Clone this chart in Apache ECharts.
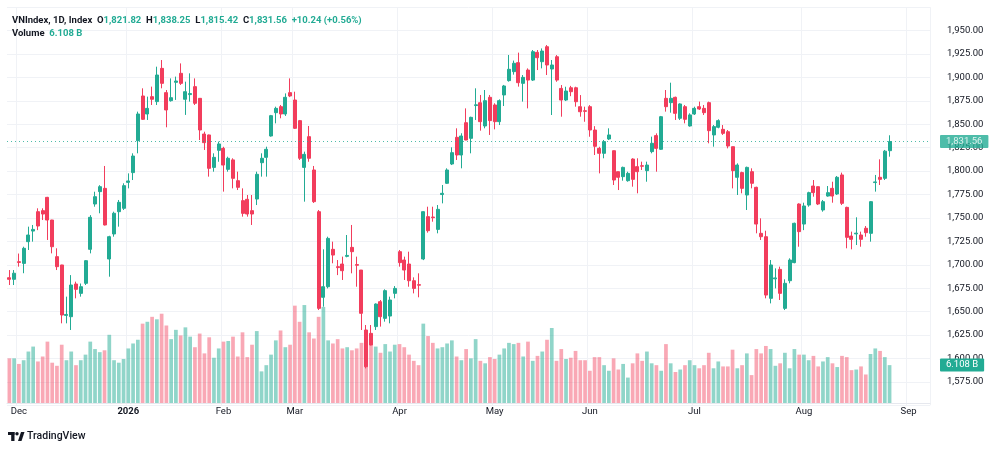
<!DOCTYPE html>
<html>
<head>
<meta charset="utf-8">
<title>VNIndex 1D</title>
<script src="https://cdn.jsdelivr.net/npm/echarts@6/dist/echarts.min.js"></script>
<style>
  html, body { margin: 0; padding: 0; background: #ffffff; }
  #chart { width: 1000px; height: 451px; }
</style>
</head>
<body>
<div id="chart"></div>
<script>
// x axis: month labels and the bar index where each month starts
const monthLabels = ['Dec', '2026', 'Feb', 'Mar', 'Apr', 'May', 'Jun', 'Jul', 'Aug', 'Sep'];
const monthStarts = [2, 25, 45, 60, 82, 102, 122, 144, 167, 189];
const emptyBars = 8; // blank space right of the last bar

// daily bars
const opens = [
  1686.2, 1684.5, 1703.3, 1701.5, 1724.7, 1736.0, 1756.7, 1757.8, 1772.0, 1747.8,
  1708.7, 1699.8, 1646.0, 1644.6, 1679.5, 1669.5, 1680.2, 1716.5, 1764.9, 1778.1,
  1781.6, 1706.2, 1732.9, 1756.7, 1760.3, 1788.0, 1798.4, 1832.5, 1880.2, 1861.0,
  1879.5, 1874.2, 1909.7, 1883.8, 1875.2, 1894.8, 1904.4, 1876.7, 1881.7, 1890.2,
  1877.7, 1839.6, 1838.6, 1804.0, 1822.2, 1824.3, 1801.9, 1812.0, 1789.8, 1768.5,
  1769.9, 1757.8, 1770.2, 1809.0, 1814.7, 1837.5, 1862.4, 1868.8, 1861.0, 1883.8,
  1875.9, 1853.9, 1804.0, 1836.8, 1801.2, 1756.7, 1665.3, 1676.6, 1716.5, 1698.0,
  1700.8, 1709.0, 1718.6, 1700.2, 1694.4, 1630.4, 1626.8, 1634.0, 1660.6, 1642.8,
  1645.3, 1669.5, 1714.0, 1705.1, 1700.8, 1683.0, 1678.8, 1706.2, 1751.4, 1751.0,
  1737.8, 1775.0, 1787.0, 1807.6, 1836.1, 1817.2, 1851.7, 1835.0, 1870.0, 1873.0,
  1848.2, 1878.8, 1870.6, 1852.8, 1881.3, 1896.6, 1906.2, 1915.8, 1893.7, 1907.9,
  1897.2, 1926.8, 1916.8, 1932.8, 1909.0, 1922.1, 1888.3, 1875.9, 1889.0, 1889.0,
  1868.8, 1864.5, 1868.8, 1843.9, 1824.3, 1819.0, 1834.3, 1821.8, 1799.4, 1794.1,
  1789.8, 1812.9, 1804.8, 1805.8, 1800.5, 1820.8, 1837.9, 1823.3, 1877.7, 1873.1,
  1878.8, 1856.4, 1868.8, 1848.2, 1861.0, 1868.8, 1867.0, 1873.1, 1838.6, 1846.8,
  1844.6, 1842.1, 1826.1, 1793.4, 1798.4, 1774.5, 1799.4, 1782.7, 1733.6, 1730.0,
  1664.2, 1685.0, 1695.1, 1653.5, 1683.0, 1702.3, 1764.9, 1743.5, 1763.8, 1784.1,
  1783.4, 1758.5, 1773.4, 1781.6, 1775.6, 1795.9, 1761.3, 1730.7, 1733.0, 1731.8,
  1739.0, 1733.6, 1787.8, 1793.4, 1792.3, 1821.82
];
const highs = [
  1694.4, 1694.4, 1712.0, 1719.3, 1740.7, 1742.5, 1760.3, 1760.3, 1772.5, 1748.0,
  1717.6, 1700.0, 1666.0, 1689.0, 1682.0, 1680.0, 1705.0, 1753.0, 1778.0, 1785.0,
  1805.5, 1731.0, 1756.7, 1769.2, 1787.0, 1797.6, 1819.0, 1863.5, 1888.4, 1879.5,
  1890.2, 1911.5, 1918.6, 1886.6, 1899.0, 1900.9, 1915.0, 1895.5, 1904.4, 1899.0,
  1878.0, 1842.1, 1839.0, 1819.0, 1831.5, 1826.0, 1815.4, 1813.7, 1799.4, 1781.6,
  1774.5, 1774.5, 1799.4, 1819.0, 1826.1, 1860.0, 1868.8, 1870.6, 1883.0, 1899.0,
  1884.8, 1854.6, 1820.8, 1848.2, 1805.5, 1758.5, 1716.5, 1730.0, 1724.7, 1705.1,
  1708.7, 1731.8, 1742.5, 1708.7, 1694.4, 1635.7, 1635.7, 1658.8, 1662.4, 1673.8,
  1666.0, 1677.3, 1715.8, 1708.7, 1714.0, 1686.6, 1690.9, 1757.0, 1762.0, 1762.0,
  1763.8, 1785.2, 1803.0, 1825.4, 1845.7, 1840.4, 1867.0, 1858.1, 1888.4, 1881.3,
  1886.6, 1881.3, 1872.4, 1876.6, 1892.0, 1924.0, 1918.0, 1926.5, 1902.6, 1909.7,
  1929.3, 1929.3, 1931.0, 1934.6, 1918.6, 1923.9, 1891.9, 1890.1, 1891.0, 1890.1,
  1881.2, 1868.8, 1870.5, 1848.0, 1826.0, 1833.2, 1845.7, 1822.0, 1799.4, 1804.8,
  1799.4, 1813.7, 1813.7, 1810.1, 1810.1, 1836.8, 1840.3, 1858.9, 1886.6, 1894.4,
  1879.5, 1872.4, 1870.6, 1861.7, 1868.8, 1874.2, 1870.6, 1874.2, 1849.2, 1855.3,
  1849.2, 1843.9, 1826.1, 1808.3, 1799.4, 1804.8, 1803.0, 1783.4, 1749.6, 1736.4,
  1705.1, 1696.2, 1698.0, 1684.5, 1706.9, 1745.0, 1765.6, 1766.3, 1778.0, 1790.5,
  1783.6, 1769.2, 1784.1, 1788.7, 1794.8, 1798.4, 1762.0, 1735.4, 1750.7, 1735.4,
  1741.4, 1768.1, 1795.9, 1812.6, 1822.6, 1838.25
];
const lows = [
  1678.4, 1678.4, 1698.0, 1691.0, 1715.8, 1724.7, 1737.0, 1747.8, 1726.5, 1712.2,
  1694.4, 1637.5, 1637.5, 1630.4, 1664.2, 1666.0, 1678.4, 1712.2, 1762.0, 1755.0,
  1742.0, 1687.3, 1730.0, 1740.7, 1758.5, 1781.6, 1790.5, 1819.0, 1854.6, 1854.6,
  1870.6, 1870.6, 1888.4, 1846.8, 1874.2, 1876.0, 1892.0, 1860.0, 1874.2, 1870.6,
  1833.2, 1822.6, 1794.1, 1799.4, 1810.0, 1778.1, 1799.4, 1781.6, 1779.8, 1751.4,
  1751.4, 1742.5, 1763.8, 1794.1, 1794.1, 1836.8, 1851.0, 1856.4, 1858.9, 1879.0,
  1845.0, 1811.9, 1767.4, 1810.0, 1766.0, 1651.7, 1655.3, 1674.8, 1701.6, 1689.0,
  1683.8, 1708.0, 1690.9, 1676.6, 1630.4, 1589.4, 1614.0, 1630.4, 1634.0, 1639.3,
  1637.5, 1664.2, 1698.0, 1683.8, 1676.6, 1669.5, 1665.3, 1705.0, 1734.3, 1746.0,
  1733.6, 1765.6, 1786.3, 1806.5, 1811.9, 1803.0, 1833.0, 1819.0, 1854.6, 1843.2,
  1845.7, 1838.6, 1844.6, 1849.2, 1869.5, 1895.5, 1903.0, 1890.2, 1874.2, 1867.0,
  1896.2, 1907.9, 1909.7, 1902.6, 1859.9, 1895.4, 1858.1, 1874.8, 1880.0, 1868.8,
  1858.1, 1852.7, 1836.7, 1817.2, 1797.6, 1813.7, 1833.2, 1785.2, 1779.8, 1789.8,
  1788.7, 1783.4, 1776.3, 1801.2, 1788.7, 1819.0, 1799.4, 1822.6, 1863.5, 1862.4,
  1854.6, 1854.6, 1851.0, 1847.5, 1859.9, 1865.3, 1859.9, 1829.7, 1826.1, 1845.7,
  1838.6, 1824.3, 1781.6, 1774.5, 1776.3, 1758.5, 1781.6, 1733.6, 1726.5, 1664.2,
  1658.8, 1674.8, 1662.4, 1651.7, 1680.2, 1701.6, 1719.3, 1737.0, 1762.0, 1772.7,
  1763.8, 1756.7, 1772.7, 1766.3, 1774.5, 1763.8, 1717.6, 1716.5, 1721.1, 1719.3,
  1730.0, 1724.7, 1778.1, 1785.2, 1790.5, 1815.42
];
const closes = [
  1684.5, 1691.0, 1702.5, 1717.6, 1731.8, 1737.8, 1741.4, 1754.2, 1747.8, 1719.3,
  1698.0, 1646.4, 1647.0, 1678.4, 1673.8, 1676.6, 1704.4, 1750.7, 1772.7, 1783.4,
  1742.5, 1730.0, 1755.0, 1766.7, 1784.5, 1789.5, 1816.1, 1861.0, 1855.3, 1867.0,
  1876.7, 1902.6, 1893.7, 1865.3, 1878.4, 1896.2, 1893.7, 1884.8, 1882.8, 1872.4,
  1843.9, 1830.4, 1803.0, 1814.7, 1829.0, 1806.5, 1813.7, 1792.3, 1782.7, 1754.9,
  1754.2, 1754.2, 1796.6, 1813.7, 1823.3, 1859.2, 1867.0, 1861.0, 1878.8, 1880.2,
  1845.7, 1813.7, 1817.9, 1813.7, 1767.4, 1653.5, 1676.6, 1728.2, 1710.4, 1697.0,
  1693.7, 1710.0, 1714.0, 1699.5, 1648.2, 1591.2, 1614.4, 1658.1, 1644.6, 1672.4,
  1662.4, 1674.8, 1702.3, 1694.4, 1683.0, 1674.8, 1678.2, 1756.7, 1736.4, 1750.3,
  1759.2, 1776.3, 1801.2, 1819.7, 1817.2, 1837.5, 1833.2, 1857.4, 1870.8, 1852.8,
  1875.2, 1853.9, 1852.8, 1875.2, 1890.9, 1908.7, 1915.1, 1894.4, 1900.1, 1897.2,
  1927.5, 1921.1, 1928.2, 1913.3, 1913.3, 1897.2, 1875.9, 1885.5, 1884.8, 1874.1,
  1863.4, 1863.8, 1843.9, 1826.5, 1819.0, 1831.5, 1838.6, 1790.5, 1793.4, 1804.0,
  1797.6, 1791.2, 1799.4, 1805.2, 1806.5, 1829.7, 1824.3, 1858.1, 1868.8, 1877.7,
  1861.7, 1871.7, 1855.3, 1860.0, 1867.0, 1866.3, 1862.4, 1843.2, 1847.5, 1853.9,
  1840.3, 1826.8, 1800.5, 1806.5, 1781.6, 1804.0, 1787.0, 1743.5, 1730.0, 1667.7,
  1699.8, 1686.0, 1669.5, 1680.2, 1705.1, 1744.3, 1735.4, 1762.8, 1777.0, 1777.0,
  1764.9, 1767.4, 1777.0, 1773.4, 1793.4, 1765.6, 1729.3, 1727.2, 1733.8, 1727.2,
  1734.3, 1767.4, 1788.5, 1791.2, 1821.3, 1831.56
];
// volume in billions
const volumes = [
  7.2, 7.2, 6.3, 6.9, 8.3, 9.1, 6.7, 7.5, 9.9, 6.5,
  6.0, 9.4, 6.9, 8.3, 6.1, 6.9, 7.8, 9.9, 8.7, 8.2,
  8.5, 11.0, 6.9, 6.5, 7.1, 8.8, 9.6, 10.2, 12.8, 13.1,
  13.9, 13.5, 14.4, 12.5, 10.3, 11.8, 10.9, 12.2, 10.7, 9.0,
  11.2, 8.0, 10.6, 7.3, 8.8, 9.9, 10.0, 10.7, 7.5, 11.4,
  7.4, 9.4, 11.6, 5.1, 6.1, 7.8, 10.1, 11.7, 9.0, 9.4,
  15.7, 13.1, 15.8, 11.4, 10.4, 13.9, 15.5, 10.1, 9.6, 10.3,
  8.8, 9.0, 8.5, 8.8, 9.7, 10.4, 9.4, 9.1, 8.1, 9.5,
  8.3, 9.4, 9.5, 9.0, 7.8, 6.8, 6.1, 12.8, 10.8, 9.7,
  8.8, 9.0, 9.6, 10.1, 7.5, 6.9, 8.7, 7.2, 10.3, 6.8,
  6.4, 7.4, 7.1, 7.8, 8.8, 9.7, 9.5, 9.7, 7.5, 9.9,
  6.8, 7.6, 8.3, 10.2, 12.1, 6.8, 8.7, 7.1, 7.3, 8.4,
  6.9, 6.9, 5.2, 7.4, 7.4, 6.1, 5.2, 7.2, 5.4, 6.3,
  4.1, 6.4, 8.0, 6.8, 8.3, 6.4, 6.1, 5.2, 9.5, 6.4,
  5.0, 5.4, 6.1, 6.9, 6.1, 5.6, 6.1, 8.1, 5.6, 6.7,
  5.9, 5.9, 8.6, 5.6, 6.1, 8.0, 4.5, 8.7, 8.0, 9.2,
  8.7, 6.0, 6.4, 8.1, 5.6, 8.7, 7.8, 7.8, 6.9, 7.6,
  5.9, 6.7, 7.4, 6.4, 5.8, 7.6, 7.4, 5.3, 5.4, 5.9,
  4.6, 7.9, 8.8, 8.4, 7.4, 6.108
];
const lastPrice = 1831.56;
const lastVolume = 6.108;

const UP = '#22ab94';
const DOWN = '#f23d5c';
const UP_VOL = 'rgba(34,171,148,0.5)';
const DOWN_VOL = 'rgba(242,61,92,0.45)';
const FONT = 'Roboto, "Noto Sans", sans-serif';

const cats = [];
for (let i = 0; i < closes.length + emptyBars; i++) cats.push(String(i));

const candles = opens.map((o, i) => [o, closes[i], lows[i], highs[i]]);
const volBars = volumes.map((v, i) => ({
  value: v,
  itemStyle: { color: closes[i] >= opens[i] ? UP_VOL : DOWN_VOL }
}));

const isMonthStart = idx => monthStarts.indexOf(idx) >= 0;
const fmtPrice = v => v.toLocaleString('en-US', { minimumFractionDigits: 2, maximumFractionDigits: 2 });

// price tag drawn at the right end of a markLine
const tagLabel = text => ({
  show: true,
  position: 'end',
  distance: 10,
  formatter: () => text,
  backgroundColor: UP,
  color: '#ffffff',
  fontSize: 9.5,
  fontFamily: FONT,
  padding: [2, 6, 1, 6],
  borderRadius: 1
});

const chart = echarts.init(document.getElementById('chart'));

chart.setOption({
  backgroundColor: '#ffffff',
  animation: false,
  textStyle: { fontFamily: FONT },
  title: {
    left: 12,
    top: 14,
    padding: 0,
    text: '{t|VNIndex, 1D, Index}  {k|O}{v|1,821.82}  {k|H}{v|1,838.25}  {k|L}{v|1,815.42}  {k|C}{v|1,831.56}  {v|+10.24 (+0.56%)}\n{t|Volume}  {v|6.108 B}',
    textStyle: {
      fontFamily: FONT,
      fontSize: 9.5,
      lineHeight: 13,
      rich: {
        t: { fontSize: 9.5, color: '#131722', lineHeight: 13, fontFamily: FONT },
        k: { fontSize: 9.5, color: '#131722', lineHeight: 13, fontFamily: FONT },
        v: { fontSize: 9.5, color: UP, lineHeight: 13, fontFamily: FONT }
      }
    }
  },
  grid: [
    { left: 7, right: 70, top: 7.2, bottom: 45.7 },
    { left: 7, right: 70, top: 279, bottom: 48 }
  ],
  xAxis: [
    {
      type: 'category', gridIndex: 0, data: cats, boundaryGap: true,
      axisLine: { show: false }, axisTick: { show: false }, axisLabel: { show: false },
      splitLine: { show: true, interval: isMonthStart, lineStyle: { color: '#f0f2f6', width: 1 } }
    },
    {
      type: 'category', gridIndex: 1, data: cats, boundaryGap: true,
      axisLine: { show: true, lineStyle: { color: '#e6e8ee' } },
      axisTick: { show: false },
      splitLine: { show: false },
      axisLabel: {
        interval: isMonthStart,
        margin: 4,
        color: '#131722',
        fontSize: 9.5,
        fontFamily: FONT,
        formatter: val => {
          const k = monthStarts.indexOf(Number(val));
          if (k < 0) return '';
          return monthLabels[k] === '2026' ? '{b|2026}' : monthLabels[k];
        },
        rich: { b: { fontWeight: 'bold', fontSize: 9.5, color: '#131722', fontFamily: FONT } }
      }
    }
  ],
  yAxis: [
    {
      type: 'value', gridIndex: 0, position: 'right',
      min: 1550, max: 1975, interval: 25,
      axisLine: { show: false }, axisTick: { show: false },
      splitLine: { show: true, lineStyle: { color: '#f0f2f6', width: 1 } },
      axisLabel: {
        showMinLabel: false, showMaxLabel: false,
        margin: 17, color: '#131722', fontSize: 9.5, fontFamily: FONT,
        formatter: v => fmtPrice(v)
      }
    },
    {
      type: 'value', gridIndex: 1, position: 'right',
      min: 0, max: 20,
      axisLine: { show: false }, axisTick: { show: false },
      axisLabel: { show: false }, splitLine: { show: false }
    }
  ],
  series: [
    {
      name: 'VNIndex',
      type: 'candlestick',
      xAxisIndex: 0, yAxisIndex: 0,
      data: candles,
      barWidth: 3.5,
      z: 3,
      itemStyle: {
        color: UP, color0: DOWN,
        borderColor: UP, borderColor0: DOWN,
        borderWidth: 1
      },
      markLine: {
        silent: true,
        symbol: 'none',
        lineStyle: { color: UP, type: [1, 3], width: 1, opacity: 0.8 },
        label: tagLabel(fmtPrice(lastPrice)),
        data: [{ yAxis: lastPrice }]
      }
    },
    {
      name: 'Volume',
      type: 'bar',
      xAxisIndex: 1, yAxisIndex: 1,
      data: volBars,
      barCategoryGap: '22%',
      z: 1,
      markLine: {
        silent: true,
        symbol: 'none',
        lineStyle: { color: 'rgba(0,0,0,0)', width: 1 },
        label: tagLabel(lastVolume.toFixed(3) + ' B'),
        data: [{ yAxis: lastVolume }]
      }
    }
  ],
  graphic: [
    {
      type: 'group', left: 8, top: 432,
      children: [
        { type: 'rect', shape: { x: 0, y: 0, width: 6.5, height: 3 }, style: { fill: '#131722' } },
        { type: 'rect', shape: { x: 3.2, y: 0, width: 3.3, height: 9 }, style: { fill: '#131722' } },
        { type: 'circle', shape: { cx: 9, cy: 1.8, r: 1.7 }, style: { fill: '#131722' } },
        { type: 'polygon', shape: { points: [[10, 9], [13, 0], [16.5, 0], [13.5, 9]] }, style: { fill: '#131722' } }
      ]
    },
    {
      type: 'text', left: 27, top: 431,
      style: { text: 'TradingView', fontSize: 10.5, fontWeight: 500, fill: '#131722', fontFamily: FONT }
    }
  ]
});
</script>
</body>
</html>
